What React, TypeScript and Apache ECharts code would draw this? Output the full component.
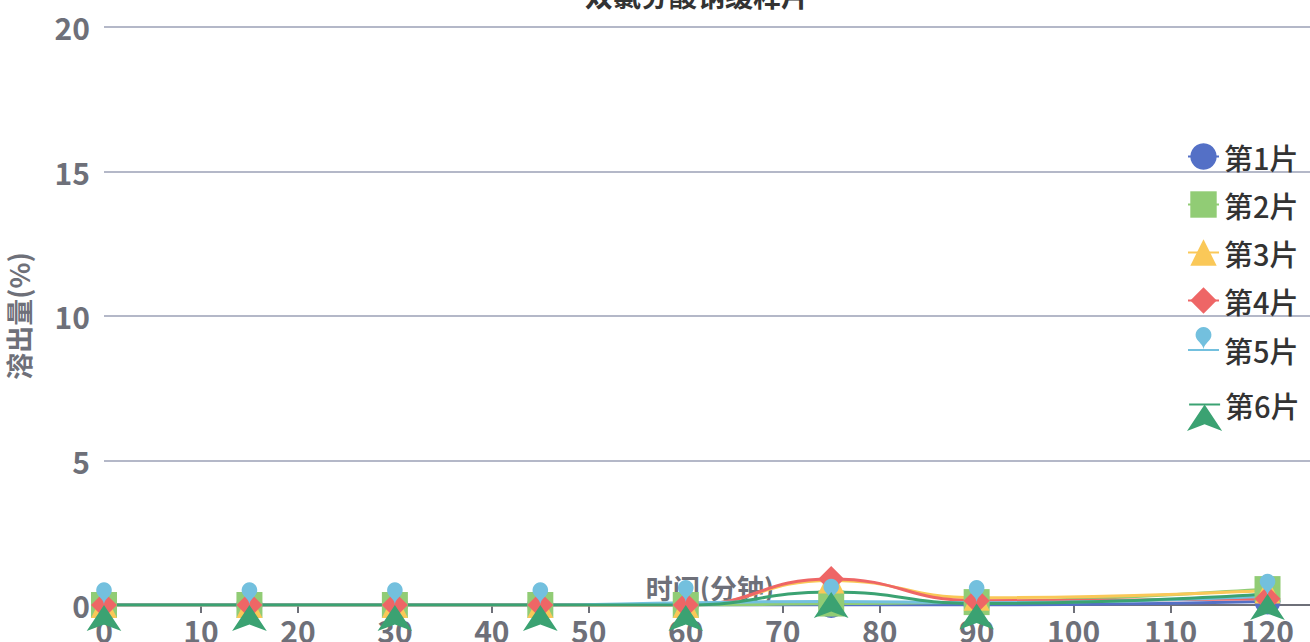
import React, { useEffect, useRef } from "react";
import * as echarts from "echarts";

const titleText = "双氯芬酸钠缓释片";
const xName = "时间(分钟)";
const yName = "溶出量(%)";
const times = [0, 15, 30, 45, 60, 75, 90, 120];
const seriesNames = ["第1片", "第2片", "第3片", "第4片", "第5片", "第6片"];
const s1 = [0, 0, 0, 0, 0, 0, 0, 0.12];
const s2 = [0, 0, 0, 0, 0, 0.05, 0.1, 0.55];
const s3 = [0, 0, 0, 0, 0, 0.85, 0.25, 0.5];
const s4 = [0, 0, 0, 0, 0, 0.9, 0.15, 0.22];
const s5 = [0, 0, 0, 0, 0.08, 0.12, 0.08, 0.3];
const s6 = [0, 0, 0, 0, 0, 0.45, 0.05, 0.38];
const seriesValues = [s1, s2, s3, s4, s5, s6];
const symbols = ["circle", "rect", "triangle", "diamond", "pin", "arrow"];
const colors = ["#5470c6", "#91cc75", "#fac858", "#ee6666", "#73c0de", "#3ba272"];

export default function App() {
  const ref = useRef<HTMLDivElement>(null);
  useEffect(() => {
    if (!ref.current) return;
    const chart = echarts.init(ref.current, undefined, { renderer: "svg" });
    const font = "'Noto Sans CJK SC', 'Noto Sans', sans-serif";
    const legendBase = {
      orient: "vertical",
      left: 1182,
      itemWidth: 31,
      itemHeight: 33,
      itemGap: 19,
      textStyle: { fontSize: 29, color: "#333", fontWeight: 500, fontFamily: font },
    };
    chart.setOption({
      animation: false,
      color: colors,
      textStyle: { fontFamily: font },
      title: {
        text: titleText,
        left: 580,
        top: 16,
        textStyle: { fontSize: 28, color: "#333", fontWeight: "bold", fontFamily: font },
      },
      legend: [
        { ...legendBase, top: 177, data: seriesNames.slice(0, 4) },
        { ...legendBase, top: 362, data: seriesNames.slice(4, 5) },
        { ...legendBase, top: 425, data: seriesNames.slice(5) },
      ],
      grid: { left: 104, right: 84, top: 67, bottom: 115, containLabel: false, outerBoundsMode: "none" },
      xAxis: {
        type: "value",
        min: 0,
        max: 125,
        interval: 10,
        name: xName,
        nameLocation: "middle",
        nameGap: -31,
        nameMoveOverlap: false,
        nameTextStyle: { fontSize: 27, color: "#6E7079", fontWeight: "bold" },
        axisLine: { lineStyle: { color: "#6E7079", width: 2 } },
        axisTick: { show: true, length: 8, lineStyle: { color: "#6E7079", width: 2 } },
        axisLabel: { fontSize: 30, color: "#6E7079", fontWeight: "bold", margin: 10, showMaxLabel: false },
        splitLine: { show: false },
      },
      yAxis: {
        type: "value",
        min: 0,
        max: 20,
        interval: 5,
        name: yName,
        nameLocation: "middle",
        nameGap: 72,
        nameMoveOverlap: false,
        nameTextStyle: { fontSize: 27, color: "#6E7079", fontWeight: "bold" },
        axisLine: { show: false },
        axisTick: { show: false },
        axisLabel: { fontSize: 30, color: "#6E7079", fontWeight: "bold", margin: 14 },
        splitLine: { lineStyle: { color: "#b4b8c8", width: 2 } },
      },
      series: seriesNames.map((name, i) => ({
        name,
        type: "line",
        smooth: true,
        symbol: symbols[i],
        symbolSize: 26,
        showAllSymbol: true,
        lineStyle: { width: 3 },
        data: times.map((t, j) => [t, seriesValues[i][j]]),
      })),
    });
    return () => chart.dispose();
  }, []);
  return (
    <div style={{ position: "fixed", left: 0, top: 0, width: 1310, height: 642, overflow: "hidden", background: "#fff" }}>
      <div ref={ref} style={{ position: "absolute", left: 0, top: -40, width: 1400, height: 760 }} />
    </div>
  );
}
